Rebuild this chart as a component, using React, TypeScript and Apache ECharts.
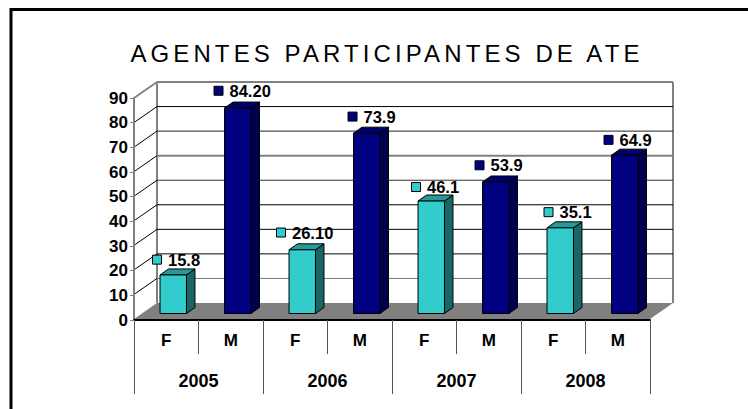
import React, { useEffect, useRef } from "react";
import * as echarts from "echarts";

const TITLE = "AGENTES PARTICIPANTES DE ATE";
const genders = ["F", "M", "F", "M", "F", "M", "F", "M"];
const years = ["2005", "2006", "2007", "2008"];
const values = [15.8, 84.2, 26.1, 73.9, 46.1, 53.9, 35.1, 64.9];
const valueLabels = ["15.8", "84.20", "26.10", "73.9", "46.1", "53.9", "35.1", "64.9"];
const yTicks = [0, 10, 20, 30, 40, 50, 60, 70, 80, 90];
const gridColors = ["#808080", "#777777", "#000000", "#000000", "#000000", "#333333", "#808080", "#222222", "#000000", "#808080"];
// hand placement of the data labels, relative to each bar's top-left corner
const labelDx = [-3, -6, -8, -1, -2, -3, 1.5, -3];
const labelDy = [-15.3, -17.3, -17.3, -16.6, -14, -16.7, -15.7, -15.3];

const FONT = "'Liberation Sans', Arial, sans-serif";
const DEPTH_X = 23;
const DEPTH_Y = -16;
const BAR_DX = 8.5;
const BAR_DY = -6;

const colors = {
  F: { front: "#33CCCC", side: "#1A6666", top: "#269999" },
  M: { front: "#000080", side: "#000050", top: "#00006A" },
};

const outline = { stroke: "#000", lineWidth: 1 };

export default function App() {
  const ref = useRef<HTMLDivElement>(null);
  useEffect(() => {
    const chart = echarts.init(ref.current!, null, { renderer: "svg" });
    const labelText = { fontFamily: FONT, fontWeight: "bold", fontSize: 17, color: "#000" };
    chart.setOption({
      animation: false,
      backgroundColor: "#fff",
      title: {
        text: TITLE,
        left: 382,
        top: 36,
        textAlign: "center",
        textStyle: { fontFamily: FONT, fontWeight: "normal", fontSize: 24, color: "#000" },
      },
      graphic: [
        { type: "line", shape: { x1: 11, y1: 9.5, x2: 748, y2: 9.5 }, style: { stroke: "#000", lineWidth: 3 } },
        { type: "line", shape: { x1: 11, y1: 8, x2: 11, y2: 409 }, style: { stroke: "#000", lineWidth: 3 } },
      ],
      grid: [
        { left: 134, width: 516, top: 98, height: 222 },
        { left: 141, width: 516, top: 93.9, height: 219.6 },
        { left: 157, width: 516, top: 82, height: 221 },
      ],
      xAxis: [
        {
          gridIndex: 0, type: "category", data: genders, z: 5, position: "bottom",
          axisLine: { lineStyle: { color: "#000", width: 2 } },
          axisTick: { show: true, length: 34, lineStyle: { color: "#555" } },
          axisLabel: { ...labelText, margin: 12, interval: 0 },
        },
        {
          gridIndex: 0, type: "category", data: years, z: 5, position: "bottom",
          axisLine: { show: false },
          axisTick: { show: true, length: 74, lineStyle: { color: "#555" } },
          axisLabel: { ...labelText, fontSize: 18, margin: 52, interval: 0 },
        },
        { gridIndex: 1, type: "category", data: genders, show: false },
        { gridIndex: 2, type: "value", min: 0, max: 1, show: false },
      ],
      yAxis: [
        {
          gridIndex: 0, type: "value", min: 0, max: 90, interval: 10, z: 5,
          axisLine: { show: true, lineStyle: { color: "#808080", width: 2 } },
          axisTick: { show: true, length: 4, lineStyle: { color: "#808080" } },
          axisLabel: { ...labelText, margin: 6 },
          splitLine: { show: false },
        },
        { gridIndex: 1, type: "value", min: 0, max: 90, show: false },
        { gridIndex: 2, type: "value", min: 0, max: 90, interval: 10, show: false },
      ],
      series: [
        {
          // floor, back wall lines and side wall lines, on the back plane
          type: "custom",
          name: "walls",
          xAxisIndex: 3,
          yAxisIndex: 2,
          silent: true,
          clip: false,
          z: 1,
          data: yTicks.map((v) => [0, v]),
          renderItem: (_: any, api: any) => {
            const v = api.value(1);
            const [lx, ly] = api.coord([0, v]);
            const [rx, ry] = api.coord([1, v]);
            const color = gridColors[yTicks.indexOf(v)];
            const children: any[] = [];
            if (v === 0) {
              children.push({
                type: "polygon",
                shape: { points: [[lx, ly], [rx, ry], [rx - DEPTH_X, ry - DEPTH_Y], [lx - DEPTH_X, ly - DEPTH_Y]] },
                style: { fill: "#808080" },
              });
              const [, ty] = api.coord([0, 90]);
              children.push(
                { type: "line", shape: { x1: lx, y1: ly, x2: lx, y2: ty }, style: { stroke: "#808080", lineWidth: 2 } },
                { type: "line", shape: { x1: rx, y1: ry, x2: rx, y2: ty }, style: { stroke: "#808080", lineWidth: 2 } },
              );
            } else {
              children.push(
                { type: "line", shape: { x1: lx, y1: ly, x2: rx, y2: ry }, style: { stroke: color, lineWidth: v === 90 || v === 60 ? 2 : 1 } },
                { type: "line", shape: { x1: lx - DEPTH_X, y1: ly - DEPTH_Y, x2: lx, y2: ly }, style: { stroke: v === 90 ? "#808080" : "#000", lineWidth: v === 90 ? 2 : 1 } },
              );
            }
            return { type: "group", children };
          },
        },
        {
          // 3D bars with their markers and labels
          type: "custom",
          name: "bars",
          xAxisIndex: 2,
          yAxisIndex: 1,
          clip: false,
          z: 3,
          data: values.map((v, i) => [i, v]),
          renderItem: (params: any, api: any) => {
            const i = params.dataIndex;
            const [cx, t] = api.coord([i, api.value(1)]);
            const [, b] = api.coord([i, 0]);
            const w = api.size([1, 0])[0] * 0.41;
            const l = cx - w / 2;
            const r = cx + w / 2;
            const c = genders[i] === "F" ? colors.F : colors.M;
            const mx = l + labelDx[i];
            const my = t + labelDy[i];
            return {
              type: "group",
              children: [
                { type: "polygon", shape: { points: [[r, b], [r + BAR_DX, b + BAR_DY], [r + BAR_DX, t + BAR_DY], [r, t]] }, style: { fill: c.side, ...outline } },
                { type: "polygon", shape: { points: [[l, t], [l + BAR_DX, t + BAR_DY], [r + BAR_DX, t + BAR_DY], [r, t]] }, style: { fill: c.top, ...outline } },
                { type: "rect", shape: { x: l, y: t, width: w, height: b - t }, style: { fill: c.front, ...outline } },
                { type: "rect", shape: { x: mx - 4.5, y: my - 4.5, width: 9, height: 9 }, style: { fill: c.front, ...outline } },
                {
                  type: "text",
                  style: {
                    text: valueLabels[i],
                    x: mx + 11,
                    y: my,
                    align: "left",
                    verticalAlign: "middle",
                    fontFamily: FONT,
                    fontWeight: "bold",
                    fontSize: 16.5,
                    fill: "#000",
                  },
                },
              ],
            };
          },
        },
      ],
    });
    ref.current!.querySelectorAll("text").forEach((t) => {
      if (t.textContent === TITLE) t.setAttribute("letter-spacing", "4.1");
    });
    return () => chart.dispose();
  }, []);
  return <div ref={ref} style={{ position: "absolute", left: 0, top: 0, width: 748, height: 409 }} />;
}
